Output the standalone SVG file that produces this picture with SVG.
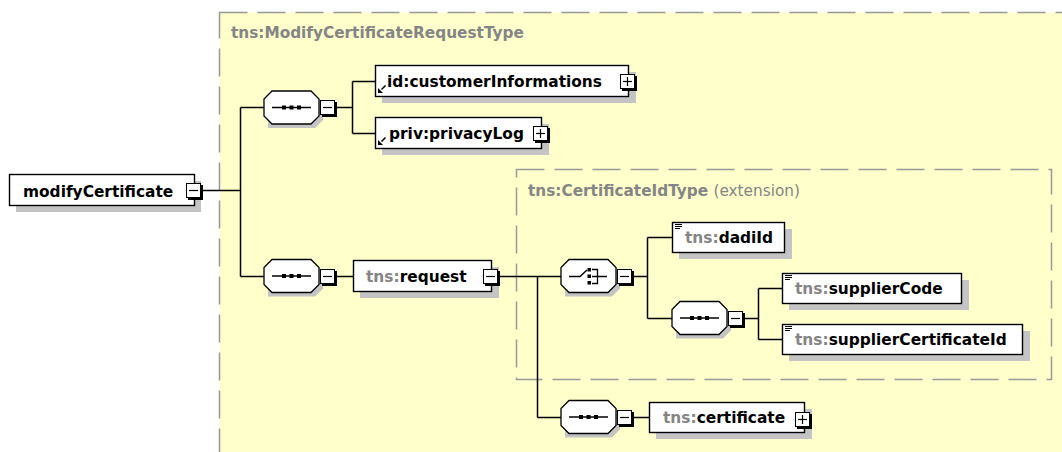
<svg xmlns="http://www.w3.org/2000/svg" width="1062" height="452" viewBox="0 0 1062 452">
<style>
.t{font-family:"DejaVu Sans","Liberation Sans",sans-serif;font-size:15.4px;font-weight:bold;fill:#000}
.g{fill:#858585}
.n{font-weight:normal}
.ttl{font-family:"DejaVu Sans","Liberation Sans",sans-serif;font-size:15.3px;font-weight:bold;fill:#858585}
.box{fill:#fff;stroke:#000;stroke-width:1.4}
.sh{fill:#c4c4c4}
.dash{fill:#ffffcc;stroke:#999;stroke-width:1.5;stroke-dasharray:28 10}
.ln{stroke:#000;stroke-width:1.5;fill:none}
.pm{fill:#fff;stroke:#000;stroke-width:1}
.pmsh{fill:#000}
</style>
<defs>
<g id="oct">
<path d="M4,4 h47 l8,8 v17 l-8,8 h-47 z" class="sh"/>
<path d="M8,0 L47,0 L55,8 L55,25 L47,33 L8,33 L0,25 L0,8 Z" fill="#fff" stroke="#000" stroke-width="1.3"/>
</g>
<g id="minus">
<rect x="2" y="2" width="15" height="15" class="pmsh"/>
<rect x="0.5" y="0.5" width="14" height="14" class="pm"/>
<line x1="3" y1="7.5" x2="12" y2="7.5" stroke="#000" stroke-width="1.2"/>
</g>
<g id="plus">
<rect x="2" y="2" width="15" height="15" class="pmsh"/>
<rect x="0.5" y="0.5" width="14" height="14" class="pm"/>
<line x1="3" y1="7.5" x2="12" y2="7.5" stroke="#000" stroke-width="1.2"/>
<line x1="7.5" y1="3" x2="7.5" y2="12" stroke="#000" stroke-width="1.2"/>
</g>
<g id="seqicon">
<line x1="8" y1="16.5" x2="47" y2="16.5" stroke="#000" stroke-width="1.5"/>
<rect x="18" y="14.5" width="4" height="4" fill="#000"/>
<rect x="25.5" y="14.5" width="4" height="4" fill="#000"/>
<rect x="33" y="14.5" width="4" height="4" fill="#000"/>
</g>
<g id="lines3">
<line x1="0" y1="0.5" x2="7" y2="0.5" stroke="#000" stroke-width="1"/>
<line x1="0" y1="2.5" x2="7" y2="2.5" stroke="#000" stroke-width="1"/>
<line x1="0" y1="4.5" x2="5" y2="4.5" stroke="#000" stroke-width="1"/>
</g>
<g id="refarrow">
<path d="M3.5,3.5 L7.5,-0.5" stroke="#000" stroke-width="1.6"/>
<path d="M0,7 L0,2 L5,7 Z" fill="#000"/>
</g>
</defs>

<rect id="outer" x="219.5" y="12.5" width="900" height="500" class="dash"/>
<text class="ttl" x="231" y="38">tns:ModifyCertificateRequestType</text>
<g id="inner">
<rect x="516.5" y="169.5" width="535" height="210" class="dash"/>
<text class="ttl" x="528" y="196">tns:CertificateIdType <tspan class="n">(extension)</tspan></text>
</g>

<g id="connectors">
<path class="ln" d="M201,190.5 H240.5 M240.5,107.5 V276.5 M240.5,107.5 H264 M240.5,276.5 H264"/>
<path class="ln" d="M337,107.5 H352.5 M352.5,81.5 V133.5 M352.5,81.5 H375 M352.5,133.5 H375"/>
<path class="ln" d="M337,276.5 H353"/>
<path class="ln" d="M500,276.5 H561 M537.5,276.5 V417.5 M537.5,417.5 H561"/>
<path class="ln" d="M633,276.5 H647.5 M647.5,237.5 V318.5 M647.5,237.5 H672 M647.5,318.5 H672"/>
<path class="ln" d="M744,318.5 H758.5 M758.5,288.5 V339.5 M758.5,288.5 H782 M758.5,339.5 H782"/>
<path class="ln" d="M633,417.5 H649"/>
</g>

<g id="modifyCertificate">
<rect x="16" y="181" width="185" height="31" class="sh"/>
<rect x="9.5" y="174.5" width="185" height="31" class="box"/>
<text class="t" x="23" y="197">modifyCertificate</text>
<use href="#minus" x="186" y="183"/>
</g>

<g id="seq1">
<use href="#oct" x="264" y="91"/>
<use href="#seqicon" x="264" y="91"/>
<use href="#minus" x="320" y="100"/>
</g>

<g id="customerInformations">
<rect x="382" y="72" width="254" height="31" class="sh"/>
<rect x="375.5" y="65.5" width="253" height="31" class="box"/>
<use href="#refarrow" x="378" y="86"/>
<text class="t" x="387" y="87">id:customerInformations</text>
<use href="#plus" x="620" y="74"/>
</g>

<g id="privacyLog">
<rect x="382" y="124" width="167" height="31" class="sh"/>
<rect x="375.5" y="117.5" width="166" height="31" class="box"/>
<use href="#refarrow" x="378" y="138"/>
<text class="t" x="389" y="139">priv:privacyLog</text>
<use href="#plus" x="533" y="126"/>
</g>

<g id="seq2">
<use href="#oct" x="264" y="259.5"/>
<use href="#seqicon" x="264" y="259.5"/>
<use href="#minus" x="320" y="269"/>
</g>

<g id="request">
<rect x="360" y="267" width="139" height="31" class="sh"/>
<rect x="353.5" y="260.5" width="138" height="31" class="box"/>
<text class="t" x="366" y="282"><tspan class="g">tns:</tspan>request</text>
<use href="#minus" x="483" y="269"/>
</g>

<g id="choice">
<use href="#oct" x="561" y="259.5"/>
<path d="M569,276.5 H580 L587,270" stroke="#000" stroke-width="1.5" fill="none"/>
<rect x="587.5" y="268" width="3.5" height="3.5" fill="#000"/>
<rect x="587.5" y="274.5" width="3.5" height="3.5" fill="#000"/>
<rect x="587.5" y="281" width="3.5" height="3.5" fill="#000"/>
<path d="M592,269.5 H597.5 V283.5 H592 M592,276.5 H607" stroke="#000" stroke-width="1.3" fill="none"/>
<use href="#minus" x="617" y="269"/>
</g>

<g id="dadiId">
<rect x="679" y="229" width="113" height="30" class="sh"/>
<rect x="672.5" y="222.5" width="112" height="30" class="box"/>
<use href="#lines3" x="675" y="224"/>
<text class="t" x="685" y="243"><tspan class="g">tns:</tspan>dadiId</text>
</g>

<g id="seq4">
<use href="#oct" x="672" y="301.5"/>
<use href="#seqicon" x="672" y="301.5"/>
<use href="#minus" x="728" y="311"/>
</g>

<g id="supplierCode">
<rect x="789" y="280" width="180" height="30" class="sh"/>
<rect x="782.5" y="273.5" width="179" height="30" class="box"/>
<use href="#lines3" x="785" y="275"/>
<text class="t" x="795" y="294"><tspan class="g">tns:</tspan>supplierCode</text>
</g>

<g id="supplierCertificateId">
<rect x="789" y="331" width="241" height="30" class="sh"/>
<rect x="782.5" y="324.5" width="240" height="30" class="box"/>
<use href="#lines3" x="785" y="326"/>
<text class="t" x="795" y="345"><tspan class="g">tns:</tspan>supplierCertificateId</text>
</g>

<g id="seq3">
<use href="#oct" x="561" y="400.5"/>
<use href="#seqicon" x="561" y="400.5"/>
<use href="#minus" x="617" y="410"/>
</g>

<g id="certificate">
<rect x="656" y="409" width="156" height="30" class="sh"/>
<rect x="649.5" y="402.5" width="155" height="30" class="box"/>
<text class="t" x="663" y="423"><tspan class="g">tns:</tspan>certificate</text>
<use href="#plus" x="795" y="412"/>
</g>
</svg>
